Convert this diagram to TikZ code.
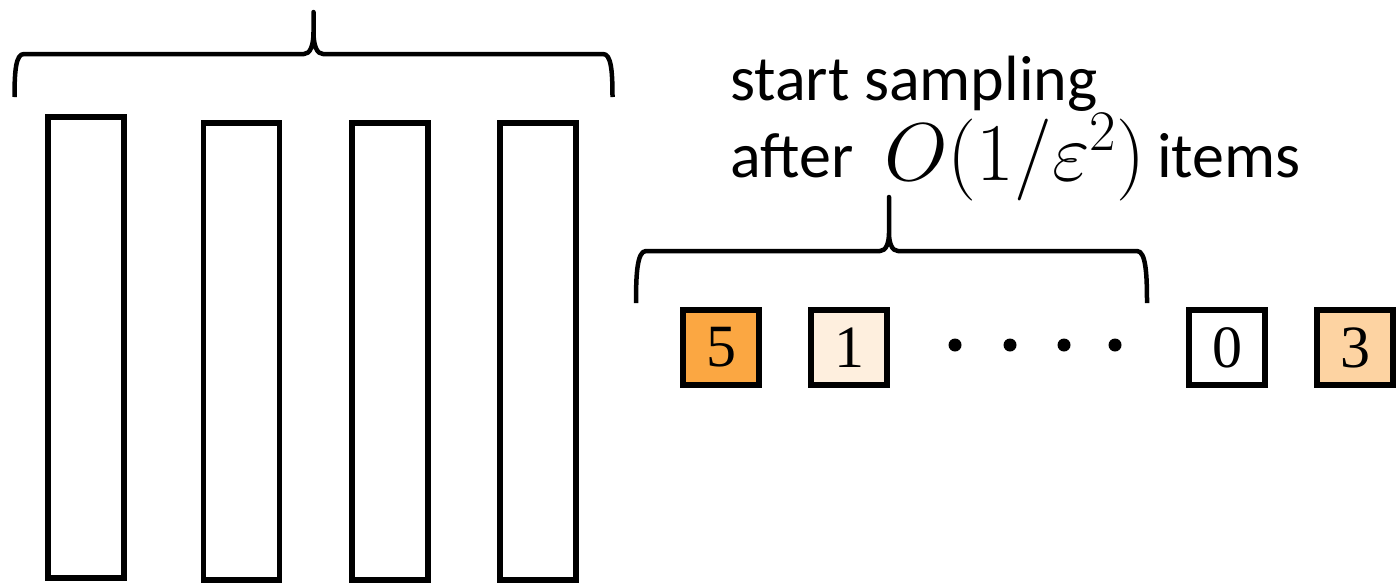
\RequirePackage{fix-cm}
\documentclass[tikz,border=0pt]{standalone}
\usepackage{fontspec}
\setmainfont{Carlito}
\newfontfamily\digitfont{Liberation Serif}
\begin{document}
\begin{tikzpicture}[x=1pt,y=-1pt,
  column/.style={draw=black,line width=5.5pt,fill=white},
  brace/.style={draw=black,line width=4.5pt,line join=round},
  item/.style={draw=black,line width=6pt,minimum width=76pt,minimum height=75pt,
    inner sep=0pt,font=\digitfont\fontsize{60}{60}\selectfont},
  label/.style={inner sep=0pt,anchor=base west,font=\fontsize{64}{64}\selectfont},
  dot/.style={circle,fill=black,minimum size=13pt,inner sep=0pt}]
\useasboundingbox (0,0) rectangle (1397,584);
\definecolor{itemA}{RGB}{251,167,66}
\definecolor{itemB}{RGB}{254,239,222}
\definecolor{itemC}{RGB}{253,211,162}

% window of columns
\draw[column] (48,117) rectangle (124,578);
\draw[column] (203.5,123) rectangle (279.5,580);
\draw[column] (352,123) rectangle (428,580);
\draw[column] (500,123) rectangle (576,580);

% brace over the columns
\draw[brace] (14.5,97) .. controls (14.5,70) and (16,54) .. (24,54)
  -- (304,54) .. controls (310,54) and (313.5,46) .. (313.5,32) -- (313.5,12)
  -- (313.5,32) .. controls (313.5,46) and (317,54) .. (323,54)
  -- (603,54) .. controls (611,54) and (612.5,70) .. (612.5,97);

% caption
\node[label] (l1) at (730,100) {start sampling};
\node[label] (l2) at (730,177) {after};
\node[inner sep=0pt,anchor=base west,font=\fontsize{82}{82}\selectfont] (m) at (884,180) {$O(1/\varepsilon^2)$};
\node[label] (l3) at (1157,177) {items};

% brace under the caption
\draw[brace] (636,303) .. controls (636,275) and (637,251) .. (646,251)
  -- (880,251) .. controls (886,251) and (889,243) .. (889,233) -- (889,197)
  -- (889,233) .. controls (889,243) and (892,251) .. (898,251)
  -- (1137,251) .. controls (1146,251) and (1147,275) .. (1147,303);

% stream of items
\node[item,fill=itemA] (a) at (721,347.5) {5};
\node[item,fill=itemB] (b) at (849,347.5) {1};
\node[dot] (d1) at (955,345) {};
\node[dot] (d2) at (1010,345) {};
\node[dot] (d3) at (1064,345) {};
\node[dot] (d4) at (1115,345) {};
\node[item,fill=white] (c) at (1227,347.5) {0};
\node[item,fill=itemC] (e) at (1355,347.5) {3};
\end{tikzpicture}
\end{document}
